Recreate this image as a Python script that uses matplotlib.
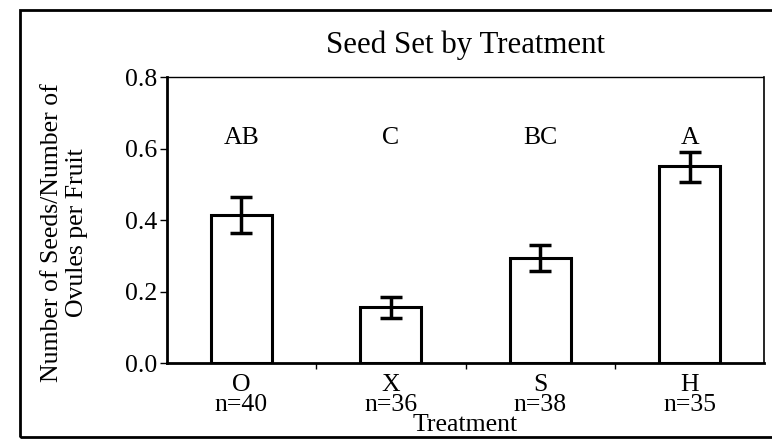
import numpy as np
import matplotlib.pyplot as plt
from matplotlib.patches import Rectangle

# seed set data
treatments = ["O", "X", "S", "H"]
sample_sizes = [40, 36, 38, 35]
seed_set = [0.415, 0.157, 0.295, 0.552]
err_low = [0.364, 0.127, 0.257, 0.507]
err_high = [0.463, 0.186, 0.329, 0.590]
groups = ["AB", "C", "BC", "A"]
group_y = 0.628

plt.rcParams['font.family'] = ['Liberation Serif', 'DejaVu Serif']
plt.rcParams['font.size'] = 18.5

fig = plt.figure(figsize=(7.72, 4.40), dpi=100)
ax = fig.add_axes([0.216, 0.175, 0.774, 0.650])

x = np.arange(len(treatments))
vals = np.array(seed_set)
yerr = np.array([vals - np.array(err_low), np.array(err_high) - vals])

ax.bar(x, vals, width=0.41, color='white', edgecolor='black', linewidth=2.2, zorder=2)
ax.errorbar(x, vals, yerr=yerr, fmt='none', ecolor='black', elinewidth=2.5,
            capsize=8, capthick=2.5, zorder=3)

for xi, g in zip(x, groups):
    ax.text(xi, group_y, g, ha='center', va='center')

ax.set_xlim(-0.5, 3.5)
ax.set_ylim(0, 0.8)
ax.set_yticks([0.0, 0.2, 0.4, 0.6, 0.8])
ax.set_yticklabels(["0.0", "0.2", "0.4", "0.6", "0.8"])
ax.set_xticks(x)
ax.set_xticklabels([f"{t}\nn={n}" for t, n in zip(treatments, sample_sizes)], linespacing=0.85)
ax.set_xticks([0.5, 1.5, 2.5], minor=True)
ax.tick_params(axis='x', which='major', length=0, pad=8)
ax.tick_params(axis='x', which='minor', length=4, width=1, direction='out')
ax.tick_params(axis='y', length=5, width=1, pad=2)

ax.spines['left'].set_linewidth(2)
ax.spines['bottom'].set_linewidth(2)
ax.spines['top'].set_linewidth(1)
ax.spines['top'].set_linestyle((0, (4, 1)))
ax.spines['right'].set_linewidth(1.2)

ax.set_title("Seed Set by Treatment", pad=17)
ax.set_xlabel("Treatment")
ax.xaxis.set_label_coords(0.5, -0.18)
ax.xaxis.label.set_va('top')
ax.set_ylabel("Number of Seeds/Number of\nOvules per Fruit", linespacing=1.15)
ax.yaxis.label.set_va('center')
ax.yaxis.set_label_coords(-0.171, 0.455)

# scanned page border
fig.patches.append(Rectangle((0.026, 0.007), 1.2, 0.97, transform=fig.transFigure,
                             fill=False, edgecolor='black', linewidth=2))

fig.savefig("out.png", dpi=100)
